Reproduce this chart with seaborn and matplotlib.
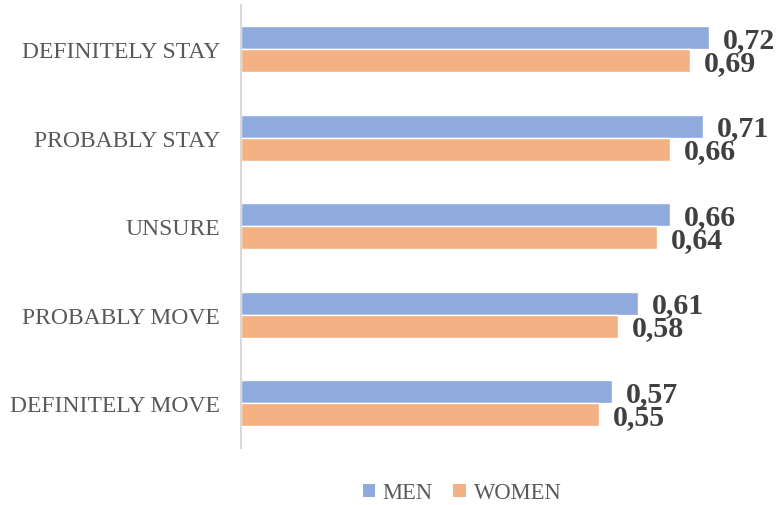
import matplotlib
matplotlib.use("Agg")
import matplotlib.pyplot as plt
import seaborn as sns
import pandas as pd
from matplotlib.patches import Patch

categories = ["DEFINITELY STAY", "PROBABLY STAY", "UNSURE", "PROBABLY MOVE", "DEFINITELY MOVE"]
men = [0.72, 0.71, 0.66, 0.61, 0.57]
women = [0.69, 0.66, 0.64, 0.58, 0.55]
series = ["MEN", "WOMEN"]
colors = {"MEN": "#8FAADC", "WOMEN": "#F4B183"}

df = pd.DataFrame({
    "category": categories * 2,
    "value": men + women,
    "series": ["MEN"] * len(categories) + ["WOMEN"] * len(categories),
})

sns.set_theme(style="white")
plt.rcParams["font.family"] = ["Liberation Serif", "DejaVu Serif"]

fig = plt.figure(figsize=(7.79, 5.06), dpi=100)
W, H = 779, 506
ax = fig.add_axes([241 / W, (H - 448.5) / H, 520 / W, 442.5 / H])

sns.barplot(data=df, y="category", x="value", hue="series", order=categories,
            hue_order=series, palette=colors, orient="h", width=0.52,
            saturation=1, ax=ax, legend=False)

ax.set_xlim(0, 0.8)
ax.set_ylim(4.5, -0.5)
ax.set_xlabel("")
ax.set_ylabel("")
ax.set_xticks([])
for s in ["top", "right", "bottom"]:
    ax.spines[s].set_visible(False)
ax.spines["left"].set_color("#D9D9D9")
ax.spines["left"].set_linewidth(1.5)
ax.tick_params(axis="y", length=0, pad=15, labelsize=17, labelcolor="#595959")
for lab in ax.get_yticklabels():
    lab.set_fontfamily(["Liberation Serif", "DejaVu Serif"])

for container in ax.containers:
    for bar in container:
        w = bar.get_width()
        y = bar.get_y() + bar.get_height() / 2
        ax.annotate(f"{w:.2f}".replace(".", ","), xy=(w, y), xytext=(10, -1),
                    textcoords="offset points", ha="left", va="center",
                    fontsize=21.5, fontweight="bold", color="#404040",
                    annotation_clip=False)

handles = [Patch(facecolor=colors[s], edgecolor="none", label=s) for s in series]
fig.legend(handles=handles, loc="center", bbox_to_anchor=(462 / W, (H - 494) / H),
           ncol=2, frameon=False, fontsize=16.3, handlelength=0.55, handleheight=0.55,
           handletextpad=0.35, columnspacing=0.9, labelcolor="#595959")

fig.savefig("out.png", dpi=100)
